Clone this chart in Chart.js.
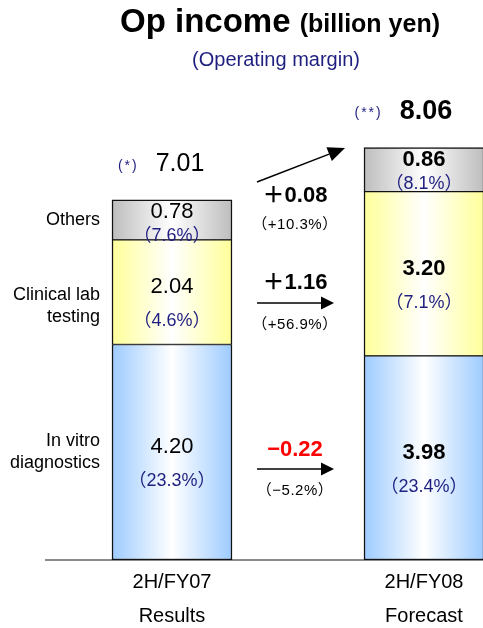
<!DOCTYPE html>
<html>
<head>
<meta charset="utf-8">
<script src="https://cdn.jsdelivr.net/npm/chart.js@4/dist/chart.umd.min.js"></script>
<style>
  html, body { margin: 0; padding: 0; background: #fff; overflow: hidden; }
  #wrap { width: 560px; height: 628px; }
</style>
</head>
<body>
<div id="wrap"><canvas id="c" width="560" height="628"></canvas></div>
<script>
// Periods on the x axis
const periods = [["2H/FY07", "Results"], ["2H/FY08", "Forecast"]];
// Segment names, bottom to top
const segmentNames = [["In vitro", "diagnostics"], ["Clinical lab", "testing"], ["Others"]];
// Operating income by segment (billion yen)
const ivdIncome = [4.20, 3.98];
const labIncome = [2.04, 3.20];
const otherIncome = [0.78, 0.86];
// Operating margin by segment (%)
const ivdMargin = [23.3, 23.4];
const labMargin = [4.6, 7.1];
const otherMargin = [7.6, 8.1];
// Reported totals and their footnote marks
const totalIncome = [7.01, 8.06];
const totalMarks = ["(*)", "(**)"];

const BAR = 120;
const NAVY = '#1f1f80';
const SANS = "'Liberation Sans','Noto Sans CJK JP',sans-serif";

const incomes = [ivdIncome, labIncome, otherIncome];
const margins = [ivdMargin, labMargin, otherMargin];
const baseColors = ['#9dcbff', '#ffff99', '#bdbdbd'];

function shade(base) {
  return (c) => {
    const chart = c.chart;
    const xs = chart.scales && chart.scales.x;
    if (c.type !== 'data' || !xs || !chart.chartArea) return base;
    const cx = xs.getPixelForValue(c.dataIndex);
    const g = chart.ctx.createLinearGradient(cx - BAR / 2, 0, cx + BAR / 2, 0);
    g.addColorStop(0, base);
    g.addColorStop(0.5, '#ffffff');
    g.addColorStop(1, base);
    return g;
  };
}

function arrow(ctx, x1, y1, x2, y2, len, half) {
  const ang = Math.atan2(y2 - y1, x2 - x1);
  const bx = x2 - len * Math.cos(ang), by = y2 - len * Math.sin(ang);
  ctx.beginPath();
  ctx.moveTo(x1, y1);
  ctx.lineTo(bx, by);
  ctx.lineWidth = 1.5;
  ctx.strokeStyle = '#000';
  ctx.stroke();
  ctx.beginPath();
  ctx.moveTo(x2, y2);
  ctx.lineTo(bx + half * Math.sin(ang), by - half * Math.cos(ang));
  ctx.lineTo(bx - half * Math.sin(ang), by + half * Math.cos(ang));
  ctx.closePath();
  ctx.fillStyle = '#000';
  ctx.fill();
}

// Row layout of the change annotations between the bars (ivd, lab, others)
const changeValueY = [450, 283, 196];
const changePctY = [491, 325, 225];
const changeArrowY = [469, 303, null];
const nameShift = [0, 14, 0];
const totalNudge = [8, 2];

const overlay = {
  id: 'overlay',
  afterDatasetsDraw(chart) {
    const ctx = chart.ctx;
    const cw = chart.width;
    ctx.save();

    // Title
    ctx.fillStyle = '#000';
    ctx.textBaseline = 'alphabetic';
    ctx.textAlign = 'left';
    const t1 = 'Op income ', t2 = '(billion yen)';
    ctx.font = `bold 33px ${SANS}`;
    const w1 = ctx.measureText(t1).width;
    ctx.font = `bold 25px ${SANS}`;
    const w2 = ctx.measureText(t2).width;
    const tx = cw / 2 - (w1 + w2) / 2;
    ctx.font = `bold 33px ${SANS}`;
    ctx.fillText(t1, tx, 32);
    ctx.font = `bold 25px ${SANS}`;
    ctx.fillText(t2, tx + w1, 32);

    ctx.textAlign = 'center';
    ctx.textBaseline = 'middle';
    ctx.fillStyle = NAVY;
    ctx.font = `20px ${SANS}`;
    ctx.fillText('(Operating margin)', cw / 2 - 4, 60);

    const metas = [0, 1, 2].map(i => chart.getDatasetMeta(i));

    // Values and margins inside each segment
    metas.forEach((meta, di) => {
      meta.data.forEach((el, j) => {
        const top = el.y, base = el.base, h = base - top, mid = (top + base) / 2;
        let vy, my;
        if (h > 60) { vy = mid - 5; my = mid + 29; }
        else { vy = top + 12; my = top + 36; }
        ctx.fillStyle = '#000';
        ctx.font = `${j === 1 ? 'bold ' : ''}22px ${SANS}`;
        ctx.fillText(incomes[di][j].toFixed(2), el.x, vy);
        ctx.fillStyle = NAVY;
        ctx.font = `18px ${SANS}`;
        ctx.fillText('（' + margins[di][j].toFixed(1) + '%）', el.x, my);
      });
    });

    // Segment names to the left of the first bar
    ctx.fillStyle = '#000';
    ctx.font = `18px ${SANS}`;
    ctx.textAlign = 'right';
    metas.forEach((meta, di) => {
      const el = meta.data[0];
      const mid = (el.y + el.base) / 2 + nameShift[di];
      const lines = segmentNames[di];
      lines.forEach((ln, k) => {
        ctx.fillText(ln, el.x - BAR / 2 - 12, mid + (k - (lines.length - 1) / 2) * 21.5);
      });
    });

    // Totals above each stack
    metas[2].data.forEach((el, j) => {
      const y = el.y - 36;
      ctx.textAlign = 'center';
      ctx.fillStyle = '#000';
      ctx.font = j === 1 ? `bold 27px ${SANS}` : `25px ${SANS}`;
      const txt = totalIncome[j].toFixed(2);
      const cx = el.x + totalNudge[j];
      ctx.fillText(txt, cx, y);
      const left = cx - ctx.measureText(txt).width / 2;
      ctx.textAlign = 'right';
      ctx.fillStyle = NAVY;
      ctx.font = `14px ${SANS}`;
      ctx.letterSpacing = '2px';
      ctx.fillText(totalMarks[j], left - 17, y + 2);
      ctx.letterSpacing = '0px';
    });

    // Changes between the two periods
    const xa = metas[0].data[0].x, xb = metas[0].data[1].x;
    const midX = (xa + xb) / 2 - 3;
    const ax1 = xa + BAR / 2 + 25;
    ctx.textAlign = 'center';
    incomes.forEach((arr, di) => {
      const d = arr[1] - arr[0];
      const pct = d / arr[0] * 100;
      ctx.fillStyle = d < 0 ? '#ff0000' : '#000';
      ctx.font = `bold 22px ${SANS}`;
      ctx.fillText((d < 0 ? '−' : '＋') + Math.abs(d).toFixed(2), midX, changeValueY[di]);
      ctx.fillStyle = '#000';
      ctx.font = `15px ${SANS}`;
      ctx.letterSpacing = '0.5px';
      ctx.fillText('（' + (d < 0 ? '−' : '+') + Math.abs(pct).toFixed(1) + '%）', midX, changePctY[di]);
      ctx.letterSpacing = '0px';
      if (changeArrowY[di] !== null) {
        arrow(ctx, ax1, changeArrowY[di], xb - BAR / 2 - 30, changeArrowY[di], 13, 6.5);
      }
    });
    // Rising arrow toward the forecast total
    arrow(ctx, ax1, 182, xb - BAR / 2 - 19, 148, 17, 7.5);

    ctx.restore();
  }
};

const mkSet = (i, bw) => ({
  label: segmentNames[i].join(' '),
  data: incomes[i],
  backgroundColor: shade(baseColors[i]),
  borderColor: '#111',
  borderWidth: bw,
  borderSkipped: false,
  barThickness: BAR
});

new Chart(document.getElementById('c'), {
  type: 'bar',
  data: {
    labels: periods,
    datasets: [
      mkSet(0, { top: 1, left: 1.5, right: 1.5, bottom: 1.5 }),
      mkSet(1, { top: 1, left: 1.5, right: 1.5, bottom: 1 }),
      mkSet(2, { top: 1.5, left: 1.5, right: 1.5, bottom: 1 })
    ]
  },
  options: {
    responsive: false,
    animation: false,
    devicePixelRatio: 1,
    layout: { padding: { left: 46, right: 10, top: 47, bottom: 0 } },
    plugins: { legend: { display: false }, tooltip: { enabled: false } },
    scales: {
      x: {
        stacked: true,
        grid: { display: false, drawTicks: false },
        border: { display: true, color: '#8a8a8a', width: 2 },
        ticks: { color: '#000', padding: 5, font: { family: SANS, size: 20, lineHeight: 1.7 } },
        afterFit(scale) { scale.height = 68; }
      },
      y: { stacked: true, display: false, min: 0, max: 10 }
    }
  },
  plugins: [overlay]
});
</script>
</body>
</html>
